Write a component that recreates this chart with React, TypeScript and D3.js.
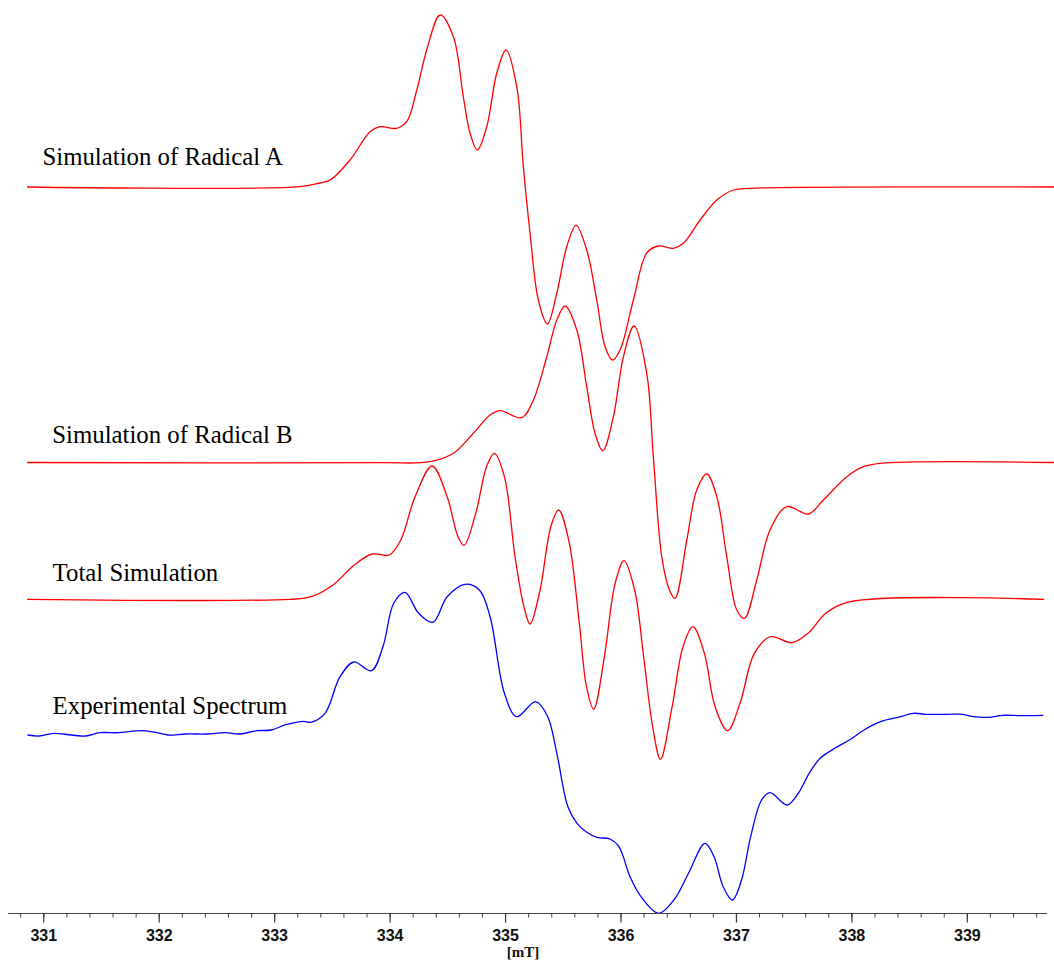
import * as d3 from "d3";

const W = 1054;
const H = 962;

// field axis (mT)
const majorTicks = [331, 332, 333, 334, 335, 336, 337, 338, 339];
const minorTicks = d3.range(0, 45).map((i) => +(330.8 + i * 0.2).toFixed(1));

// Simulation of Radical A
const fieldA = [
  330.855, 333.22, 333.393, 333.48, 333.653, 333.826, 333.913, 334.057, 334.144, 334.231,
  334.317, 334.433, 334.548, 334.634, 334.692, 334.756, 334.837, 334.924, 335.004, 335.097,
  335.154, 335.212, 335.284, 335.362, 335.444, 335.53, 335.611, 335.703, 335.79, 335.862,
  335.927, 335.992, 336.107, 336.223, 336.324, 336.454, 336.54, 336.685, 336.83, 336.974,
  337.118, 339.752,
];
const intensityA = [
  0, 0.3, 4, 7, 27, 55.3, 60.3, 58.7, 65.3, 97,
  137, 172, 150.3, 90.3, 54, 37, 60.3, 114, 137, 100.3,
  20.3, -46, -113, -137, -106, -59.7, -38.3, -63, -113, -159.7,
  -173, -163, -113, -66, -59, -61.3, -56.3, -33, -13, -3,
  -1.3, 0,
];

// Simulation of Radical B
const fieldB = [
  330.855, 333.913, 334.346, 334.548, 334.721, 334.866, 334.952, 335.14, 335.241, 335.357,
  335.444, 335.516, 335.617, 335.703, 335.775, 335.842, 335.934, 336.021, 336.113, 336.223,
  336.28, 336.353, 336.419, 336.468, 336.57, 336.656, 336.743, 336.83, 336.916, 337.003,
  337.069, 337.176, 337.291, 337.436, 337.623, 337.753, 337.956, 338.1, 338.244, 339.752,
];
const intensityB = [
  0, -0.2, 0.8, 9.2, 29.2, 47.5, 51.8, 44.8, 62.5, 105.8,
  142.5, 156.5, 132.5, 75.8, 29.2, 11.8, 45.8, 105.8, 136.5, 89.2,
  5.8, -94.2, -127.5, -135.8, -77.5, -27.5, -11.5, -34.2, -94.2, -147.5,
  -155.8, -117.5, -67.5, -44.2, -51.5, -37.5, -14.2, -4.2, -0.8, 0,
];

// Total Simulation
const fieldTotal = [
  330.855, 333.133, 333.318, 333.505, 333.69, 333.844, 333.993, 334.092, 334.216, 334.364,
  334.494, 334.588, 334.64, 334.742, 334.835, 334.903, 334.99, 335.082, 335.159, 335.212,
  335.299, 335.392, 335.46, 335.547, 335.639, 335.701, 335.763, 335.856, 335.949, 336.026,
  336.118, 336.196, 336.274, 336.342, 336.443, 336.537, 336.623, 336.722, 336.815, 336.923,
  337.031, 337.155, 337.295, 337.48, 337.62, 337.774, 337.984, 339.665,
];
const intensityTotal = [
  0, 0, 2.6, 14.3, 34.3, 45.3, 44.3, 59.3, 102.6, 133.3,
  102.6, 62.6, 54, 86, 132.6, 146, 122.6, 42.6, -7.4, -24.7,
  9.3, 72.6, 89.3, 59.3, -24, -87.4, -110, -57.4, 16, 38.6,
  9.3, -57.4, -127.4, -160, -107.4, -47.4, -27.4, -54, -107.4, -131.4,
  -104, -54, -37.4, -43.4, -34, -14, -2.4, 0,
];

// Experimental Spectrum
const fieldExp = [
  330.859, 330.961, 331.085, 331.239, 331.363, 331.487, 331.642, 331.859, 331.982, 332.075,
  332.23, 332.415, 332.57, 332.694, 332.848, 332.972, 333.096, 333.251, 333.312, 333.436,
  333.566, 333.684, 333.838, 333.938, 334.031, 334.129, 334.247, 334.371, 334.494, 334.649,
  334.773, 334.866, 334.99, 335.096, 335.261, 335.365, 335.444, 335.54, 335.619, 335.697,
  335.793, 335.904, 335.982, 336.078, 336.173, 336.325, 336.458, 336.585, 336.727, 336.806,
  336.885, 336.965, 337.044, 337.123, 337.218, 337.291, 337.44, 337.535, 337.63, 337.725,
  337.852, 337.978, 338.105, 338.248, 338.422, 338.533, 338.644, 338.834, 338.96, 339.055,
  339.182, 339.308, 339.467, 339.657,
];
const intensityExp = [
  -5, -6, -3.3, -5, -6, -2.7, -2.7, -0.7, -2.7, -5,
  -4, -4, -2.7, -4, -0.7, 0, 5.3, 8.7, 7.7, 16.7,
  53.3, 68, 59.3, 83.3, 126.7, 137.7, 116.7, 107.7, 133.3, 145.7,
  140, 113.3, 36.7, 13.3, 28.3, 13.3, -23.3, -76.7, -93.3, -101.7,
  -107.3, -109, -116.7, -146.7, -166.7, -183.3, -170, -143.3, -113.3, -126.7,
  -156.7, -170, -150, -106.7, -70, -62.7, -75, -63.3, -43.3, -28.3,
  -18.3, -10, 0, 8.3, 13.3, 16.7, 15.7, 15.7, 15.7, 13.3,
  12.7, 14.7, 14.3, 14.7,
];

const traces = [
  { name: "Simulation of Radical A", field: fieldA, intensity: intensityA, color: "#ff0000", base: 187, lx: 42.5, ly: 165 },
  { name: "Simulation of Radical B", field: fieldB, intensity: intensityB, color: "#ff0000", base: 462.5, lx: 52.3, ly: 443.3 },
  { name: "Total Simulation", field: fieldTotal, intensity: intensityTotal, color: "#ff0000", base: 599.3, lx: 52.6, ly: 580.5 },
  { name: "Experimental Spectrum", field: fieldExp, intensity: intensityExp, color: "#0000ff", base: 730, lx: 52.6, ly: 714 },
];

export default function App() {
  const x = d3.scaleLinear().domain([330.69, 339.69]).range([8, 1047]);
  // 1 intensity unit = 1 px, each trace shifted to its own baseline
  const y = d3.scaleLinear().domain([-200, 200]).range([200, -200]);
  const axisY = 913.5;

  return (
    <svg
      width={W}
      height={H}
      style={{ position: "absolute", left: 0, top: 0, background: "#fff" }}
    >
      {traces.map((t) => {
        const line = d3
          .line<number>()
          .x((_, i) => x(t.field[i]))
          .y((v) => t.base + y(v))
          .curve(d3.curveCatmullRom.alpha(0.5));
        return (
          <g key={t.name}>
            <path d={line(t.intensity) || ""} fill="none" stroke={t.color} strokeWidth={1.3} />
            <text
              x={t.lx}
              y={t.ly}
              fontFamily="'Liberation Serif', 'Times New Roman', serif"
              fontSize={24.8}
              fill="#000"
            >
              {t.name}
            </text>
          </g>
        );
      })}

      <g>
        <line x1={x.range()[0]} x2={x.range()[1]} y1={axisY} y2={axisY} stroke="#444" strokeWidth={1.2} />
        {minorTicks.map((v) => (
          <line key={"m" + v} x1={x(v)} x2={x(v)} y1={axisY} y2={axisY + 4} stroke="#444" strokeWidth={1} />
        ))}
        {majorTicks.map((v) => (
          <g key={v}>
            <line x1={x(v)} x2={x(v)} y1={axisY} y2={axisY + 9} stroke="#333" strokeWidth={1.2} />
            <text
              x={x(v)}
              y={940.5}
              textAnchor="middle"
              fontFamily="'Liberation Sans', Arial, sans-serif"
              fontWeight="bold"
              fontSize={16}
              fill="#111"
            >
              {v}
            </text>
          </g>
        ))}
        <text
          x={523}
          y={957}
          textAnchor="middle"
          fontFamily="'Liberation Serif', 'Times New Roman', serif"
          fontWeight="bold"
          fontSize={15}
          fill="#111"
        >
          [mT]
        </text>
      </g>
    </svg>
  );
}
